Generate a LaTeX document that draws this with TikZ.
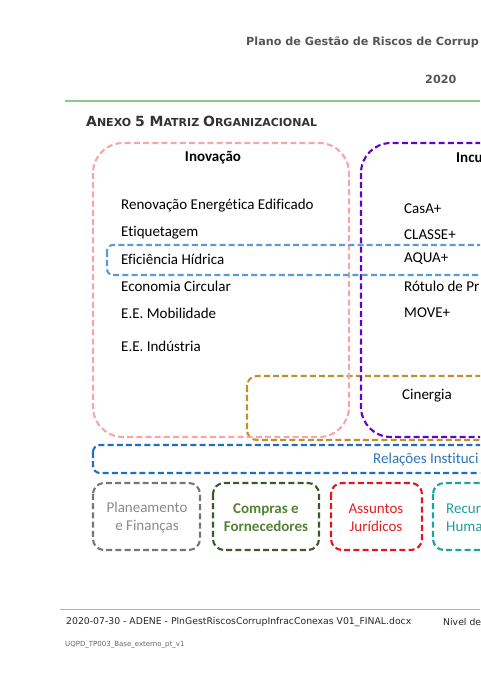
\documentclass[tikz,border=0pt]{standalone}
\usepackage{fontspec}
\setmainfont{Carlito}[Ligatures={NoCommon}]
\newfontfamily\verd{DejaVu Sans}
\definecolor{cpink}{RGB}{244,167,167}
\definecolor{cpurple}{RGB}{102,0,204}
\definecolor{clblue}{RGB}{91,155,213}
\definecolor{cgold}{RGB}{188,146,38}
\definecolor{crel}{RGB}{31,110,196}
\definecolor{creltext}{RGB}{46,117,182}
\definecolor{cgray}{RGB}{118,118,118}
\definecolor{cgraytext}{RGB}{138,138,138}
\definecolor{cgreen}{RGB}{58,90,40}
\definecolor{cgreentext}{RGB}{84,130,53}
\definecolor{cred}{RGB}{230,20,30}
\definecolor{credtext}{RGB}{224,32,32}
\definecolor{cteal}{RGB}{27,163,156}
\definecolor{ctealtext}{RGB}{32,160,154}
\definecolor{cgline}{RGB}{140,200,140}
\definecolor{cfline}{RGB}{165,180,188}
\definecolor{chead}{RGB}{85,85,85}
\tikzset{
  dbox/.style={line width=2.1pt, dash pattern=on 6pt off 3.2pt},
  item/.style={anchor=west, inner sep=0pt, font=\fontsize{15}{18}\selectfont},
  boxtext/.style={align=center, inner sep=0pt, font=\fontsize{15}{18}\selectfont},
}
\begin{document}
\begin{tikzpicture}[x=1pt,y=-1pt]
\useasboundingbox (0,0) rectangle (480,679);
\clip (0,0) rectangle (480,679);
% header
\node[anchor=west, inner sep=0pt, text=chead, font=\verd\bfseries\fontsize{11.2}{13}\selectfont] (head) at (246,42) {Plano de Gestão de Riscos de Corrup};
\node[anchor=west, inner sep=0pt, text=chead, font=\verd\bfseries\fontsize{11.2}{13}\selectfont] (year) at (425,79) {2020};
\draw[cgline, line width=1.2pt] (65,101) -- (480,101);
\node[anchor=west, inner sep=0pt, text=black!80, font=\verd\bfseries] (annex) at (86,121) {\fontsize{14}{16}\selectfont A\fontsize{11}{16}\selectfont NEXO \fontsize{14}{16}\selectfont 5 M\fontsize{11}{16}\selectfont ATRIZ \fontsize{14}{16}\selectfont O\fontsize{11}{16}\selectfont RGANIZACIONAL};
% boxes
\draw[dbox, cgold, rounded corners=10pt] (247,376) rectangle (620,440);
\draw[dbox, cpink, rounded corners=30pt] (93,143) rectangle (349,437);
\draw[dbox, cpurple, rounded corners=30pt] (361,143) rectangle (640,437);
\draw[dbox, clblue, rounded corners=6pt] (107,245) rectangle (640,275);
\draw[dbox, crel, rounded corners=7pt] (93,445) rectangle (640,473);
\draw[dbox, cgray, rounded corners=11pt] (93,483) rectangle (200,550);
\draw[dbox, cgreen, rounded corners=11pt] (213,483) rectangle (319,550);
\draw[dbox, cred, rounded corners=11pt] (331,483) rectangle (422,550);
\draw[dbox, cteal, rounded corners=11pt] (433,483) rectangle (540,550);
% Inovacao
\node[inner sep=0pt, font=\bfseries\fontsize{15}{18}\selectfont] (inov) at (213,158) {Inovação};
\node[item] (i1) at (121,206) {Renovação Energética Edificado};
\node[item] (i2) at (121,233) {Etiquetagem};
\node[item] (i3) at (121,259) {Eficiência Hídrica};
\node[item] (i4) at (121,286) {Economia Circular};
\node[item] (i5) at (121,313) {E.E. Mobilidade};
\node[item] (i6) at (121,346) {E.E. Indústria};
% Incubacao
\node[anchor=west, inner sep=0pt, font=\bfseries\fontsize{15}{18}\selectfont] (incu) at (456,158) {Incu};
\node[item] (c1) at (404,209) {CasA+};
\node[item] (c2) at (404,235) {CLASSE+};
\node[item] (c3) at (404,259) {AQUA+};
\node[item] (c4) at (404,286) {Rótulo de Pr};
\node[item] (c5) at (404,313) {MOVE+};
\node[item] (cin) at (402,396) {Cinergia};
\node[item, text=creltext] (rel) at (373,460) {Relações Instituci};
% bottom boxes
\node[boxtext, text=cgraytext] (pf) at (147,518) {Planeamento\\e Finanças};
\node[boxtext, text=cgreentext, font=\bfseries\fontsize{15}{18}\selectfont] (cf) at (266,518) {Compras e\\Fornecedores};
\node[boxtext, text=credtext] (aj) at (376,518) {Assuntos\\Jurídicos};
\node[boxtext, text=ctealtext, align=left, anchor=west] (rh) at (446,518) {Recur\\Huma};
% footer
\draw[cfline, line width=1pt] (60,609) -- (480,609);
\node[anchor=west, inner sep=0pt, text=black!85, font=\verd\fontsize{9.3}{11}\selectfont] (foot) at (66,622) {2020-07-30 - ADENE - PlnGestRiscosCorrupInfracConexas V01\_FINAL.docx};
\node[anchor=west, inner sep=0pt, text=black!85, font=\verd\fontsize{9.3}{11}\selectfont] (niv) at (443,622) {Nivel de};
\node[anchor=west, inner sep=0pt, text=black!60, font=\verd\fontsize{7}{8}\selectfont] (tmpl) at (65,645) {UQPD\_TP003\_Base\_externo\_pt\_v1};
\end{tikzpicture}
\end{document}
